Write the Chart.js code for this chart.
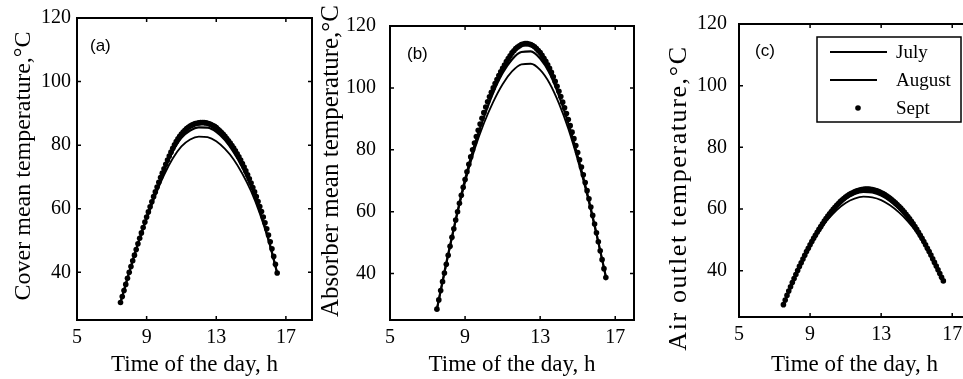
<!DOCTYPE html>
<html>
<head>
<meta charset="utf-8">
<script src="https://cdn.jsdelivr.net/npm/chart.js@4.4.1/dist/chart.umd.min.js"></script>
<style>
  html, body { margin: 0; padding: 0; background: #fff; overflow: hidden; width: 963px; height: 379px; }
  .panel { position: absolute; top: 0; height: 379px; }
</style>
</head>
<body>
<div class="panel" style="left:0;width:320px"><canvas id="chart-a"></canvas></div>
<div class="panel" style="left:312px;width:330px"><canvas id="chart-b"></canvas></div>
<div class="panel" style="left:650px;width:340px"><canvas id="chart-c"></canvas></div>
<script>
// hours of the day for the two line series (July, August)
const lineHours = [7.5, 8, 8.5, 9, 9.5, 10, 10.5, 11, 11.5, 12, 12.5, 13, 13.5, 14, 14.5, 15, 15.5, 16, 16.5];

// hours of the day for the dotted series (Sept)
const septHours = [
  7.5, 7.6, 7.7, 7.8, 7.9,
  8.0, 8.1, 8.2, 8.3, 8.4, 8.5, 8.6, 8.7, 8.8, 8.9,
  9.0, 9.1, 9.2, 9.3, 9.4, 9.5, 9.6, 9.7, 9.8, 9.9,
  10.0, 10.1, 10.2, 10.3, 10.4, 10.5, 10.6, 10.7, 10.8, 10.9,
  11.0, 11.1, 11.2, 11.3, 11.4, 11.5, 11.6, 11.7, 11.8, 11.9,
  12.0, 12.1, 12.2, 12.3, 12.4, 12.5, 12.6, 12.7, 12.8, 12.9,
  13.0, 13.1, 13.2, 13.3, 13.4, 13.5, 13.6, 13.7, 13.8, 13.9,
  14.0, 14.1, 14.2, 14.3, 14.4, 14.5, 14.6, 14.7, 14.8, 14.9,
  15.0, 15.1, 15.2, 15.3, 15.4, 15.5, 15.6, 15.7, 15.8, 15.9,
  16.0, 16.1, 16.2, 16.3, 16.4, 16.5
];

const seriesNames = ['July', 'August', 'Sept'];
const xTicks = [5, 9, 13, 17];
const yTicks = [40, 60, 80, 100, 120];

// (a) cover mean temperature
const coverJuly = [30.5, 40, 49, 57.3, 65, 72, 78, 82.3, 84.6, 85.6, 85.5, 84.2, 81.6, 77.8, 73, 67, 59.5, 50.5, 39.8];
const coverAugust = [30.5, 40, 48.8, 56.8, 64.2, 70.6, 75.8, 79.6, 81.8, 82.7, 82.5, 81.2, 78.8, 75.5, 71, 65.5, 58.5, 50, 39.8];
const coverSept = [
  30.5, 32.4, 34.3, 36.2, 38.1,
  40.0, 41.8, 43.6, 45.4, 47.2, 49.0, 50.7, 52.4, 54.1, 55.8,
  57.4, 59.0, 60.6, 62.2, 63.8, 65.3, 66.8, 68.3, 69.8, 71.2,
  72.6, 74.0, 75.3, 76.6, 77.8, 79.0, 80.1, 81.1, 82.0, 82.8,
  83.5, 84.1, 84.7, 85.2, 85.6, 86.0, 86.3, 86.6, 86.8, 86.9,
  87.0, 87.1, 87.1, 87.1, 87.0, 86.9, 86.7, 86.5, 86.2, 85.9,
  85.5, 85.0, 84.5, 84.0, 83.4, 82.8, 82.1, 81.4, 80.7, 79.9,
  79.1, 78.2, 77.3, 76.3, 75.3, 74.2, 73.1, 71.9, 70.7, 69.4,
  68.1, 66.7, 65.3, 63.8, 62.3, 60.7, 59.1, 57.4, 55.6, 53.7,
  51.7, 49.6, 47.4, 45.0, 42.5, 39.8
];

// (b) absorber mean temperature
const absorberJuly = [28.5, 43.5, 57.5, 70.5, 81.5, 90.5, 98.5, 104.8, 109.2, 111.6, 111.8, 109.5, 104.8, 97.5, 88.5, 78, 66.2, 53, 39];
const absorberAugust = [28.5, 43, 57, 69.5, 80, 88.5, 95.5, 101.2, 105.3, 107.6, 107.8, 105.8, 101.5, 95, 86.8, 76.8, 65.5, 52.6, 39];
const absorberSept = [
  28.5, 31.5, 34.5, 37.4, 40.2,
  43.0, 45.9, 48.8, 51.7, 54.5, 57.3, 60.0, 62.7, 65.3, 67.9,
  70.4, 72.9, 75.3, 77.7, 80.0, 82.2, 84.3, 86.3, 88.3, 90.2,
  92.0, 93.8, 95.5, 97.1, 98.6, 100.0, 101.4, 102.7, 104.0, 105.2,
  106.3, 107.4, 108.5, 109.5, 110.4, 111.3, 112.0, 112.7, 113.2, 113.6,
  114.0, 114.2, 114.3, 114.3, 114.2, 114.0, 113.7, 113.3, 112.7, 112.1,
  111.4, 110.5, 109.6, 108.6, 107.5, 106.3, 105.0, 103.6, 102.1, 100.5,
  98.9, 97.2, 95.4, 93.6, 91.7, 89.8, 87.8, 85.7, 83.6, 81.4,
  79.1, 76.8, 74.4, 71.9, 69.4, 66.8, 64.2, 61.5, 58.8, 56.0,
  53.2, 50.3, 47.4, 44.5, 41.6, 38.7
];

// (c) air outlet temperature
const airJuly = [29, 36, 42.5, 48.2, 53.2, 57.4, 60.8, 63.3, 64.9, 65.6, 65.4, 64.4, 62.6, 60.1, 57, 53, 48.3, 42.9, 36.8];
const airAugust = [29, 36, 42.3, 47.9, 52.7, 56.6, 59.7, 62, 63.4, 64.0, 63.8, 62.9, 61.2, 58.9, 56, 52.4, 47.9, 42.7, 36.8];
const airSept = [
  29.0, 30.5, 32.0, 33.4, 34.8,
  36.2, 37.5, 38.8, 40.1, 41.4, 42.6, 43.8, 45.0, 46.2, 47.3,
  48.4, 49.5, 50.5, 51.5, 52.5, 53.4, 54.3, 55.2, 56.1, 56.9,
  57.7, 58.5, 59.2, 59.9, 60.6, 61.2, 61.8, 62.4, 62.9, 63.4,
  63.9, 64.3, 64.7, 65.0, 65.3, 65.6, 65.8, 66.0, 66.2, 66.3,
  66.4, 66.5, 66.5, 66.5, 66.4, 66.3, 66.2, 66.0, 65.8, 65.6,
  65.3, 65.0, 64.7, 64.3, 63.9, 63.5, 63.0, 62.5, 62.0, 61.5,
  60.9, 60.3, 59.7, 59.0, 58.3, 57.6, 56.8, 56.0, 55.2, 54.3,
  53.4, 52.5, 51.5, 50.5, 49.5, 48.4, 47.3, 46.2, 45.1, 43.9,
  42.7, 41.5, 40.3, 39.1, 37.9, 36.7
];

const serif = '"Liberation Serif", "Times New Roman", serif';
const sans = '"Liberation Sans", Arial, sans-serif';

function toPoints(xs, ys) {
  return xs.map((x, i) => ({ x: x, y: ys[i] }));
}

// box, inward ticks, panel letter, rotated y title and (optional) legend
const framePlugin = {
  id: 'frame',
  afterDraw(chart, args, opts) {
    const ctx = chart.ctx;
    const a = chart.chartArea;
    const xs = chart.scales.x, ys = chart.scales.y;
    ctx.save();
    ctx.strokeStyle = '#000';
    ctx.lineWidth = 2;
    ctx.strokeRect(a.left, a.top, a.right - a.left, a.bottom - a.top);
    ctx.beginPath();
    xs.ticks.forEach(t => {
      const p = xs.getPixelForValue(t.value);
      ctx.moveTo(p, a.bottom); ctx.lineTo(p, a.bottom - 4);
      ctx.moveTo(p, a.top); ctx.lineTo(p, a.top + 4);
    });
    ys.ticks.forEach(t => {
      const p = ys.getPixelForValue(t.value);
      ctx.moveTo(a.left, p); ctx.lineTo(a.left + 4, p);
      ctx.moveTo(a.right, p); ctx.lineTo(a.right - 4, p);
    });
    ctx.lineWidth = 1.5;
    ctx.stroke();

    ctx.fillStyle = '#000';
    ctx.font = '17px ' + sans;
    ctx.textAlign = 'left';
    ctx.textBaseline = 'alphabetic';
    ctx.fillText(opts.letter, a.left + opts.letterDx, a.top + opts.letterDy);

    ctx.save();
    ctx.translate(opts.titleX, opts.titleY);
    ctx.rotate(-Math.PI / 2);
    ctx.font = opts.titleSize + 'px ' + serif;
    ctx.letterSpacing = (opts.titleSpacing || 0) + 'px';
    ctx.textAlign = 'center';
    ctx.textBaseline = 'middle';
    ctx.fillText(opts.title, 0, 0);
    ctx.restore();

    if (opts.legend) {
      const bx = a.left + 78, by = a.top + 13;
      ctx.fillStyle = '#fff';
      ctx.fillRect(bx, by, 144, 85);
      ctx.lineWidth = 1.5;
      ctx.strokeRect(bx, by, 144, 85);
      ctx.lineWidth = 2;
      ctx.beginPath();
      ctx.moveTo(bx + 13, by + 15); ctx.lineTo(bx + 70, by + 15);
      ctx.moveTo(bx + 13, by + 43); ctx.lineTo(bx + 60, by + 43);
      ctx.stroke();
      ctx.fillStyle = '#000';
      ctx.beginPath();
      ctx.arc(bx + 41, by + 71, 2.8, 0, Math.PI * 2);
      ctx.fill();
      ctx.font = '19px ' + serif;
      ctx.fillText(seriesNames[0], bx + 79, by + 21);
      ctx.fillText(seriesNames[1], bx + 79, by + 49);
      ctx.fillText(seriesNames[2], bx + 79, by + 77);
    }
    ctx.restore();
  }
};

function makePanel(id, cfg) {
  return new Chart(document.getElementById(id), {
    type: 'scatter',
    data: {
      datasets: [
        { label: seriesNames[0], data: toPoints(lineHours, cfg.july), showLine: true,
          borderColor: '#000', borderWidth: 2.2, pointRadius: 0, cubicInterpolationMode: 'monotone' },
        { label: seriesNames[1], data: toPoints(lineHours, cfg.august), showLine: true,
          borderColor: '#000', borderWidth: 1.8, pointRadius: 0, cubicInterpolationMode: 'monotone' },
        { label: seriesNames[2], data: toPoints(septHours, cfg.sept), showLine: false,
          pointRadius: 2.8, pointBackgroundColor: '#000', pointBorderWidth: 0, borderColor: '#000' }
      ]
    },
    options: {
      responsive: true,
      maintainAspectRatio: false,
      animation: false,
      layout: { padding: cfg.padding },
      plugins: {
        legend: { display: false },
        tooltip: { enabled: false },
        frame: cfg.frame
      },
      scales: {
        x: {
          type: 'linear', min: 5, max: cfg.xMax,
          grid: { display: false, drawTicks: false },
          border: { display: false },
          afterBuildTicks: s => { s.ticks = xTicks.map(v => ({ value: v })); },
          afterFit: s => { s.height = cfg.xHeight; },
          ticks: { color: '#000', font: { family: serif, size: 20 }, padding: 6, maxRotation: 0, autoSkip: false },
          title: { display: true, text: 'Time of the day, h', color: '#000', font: { family: serif, size: 23 }, padding: 0 }
        },
        y: {
          type: 'linear', min: 25, max: 120,
          grid: { display: false, drawTicks: false },
          border: { display: false },
          afterBuildTicks: s => { s.ticks = yTicks.map(v => ({ value: v })); },
          afterFit: s => { s.width = cfg.yWidth; },
          ticks: { color: '#000', font: { family: serif, size: 20 }, padding: cfg.yPad, autoSkip: false }
        }
      }
    },
    plugins: [framePlugin]
  });
}

makePanel('chart-a', {
  july: coverJuly, august: coverAugust, sept: coverSept,
  xMax: 18.5, xHeight: 59, yWidth: 77, yPad: 6,
  padding: { top: 17, right: 8, left: 0, bottom: 0 },
  frame: { letter: '(a)', letterDx: 13, letterDy: 33, title: 'Cover mean temperature,°C', titleX: 24, titleY: 166, titleSize: 24 }
});

makePanel('chart-b', {
  july: absorberJuly, august: absorberAugust, sept: absorberSept,
  xMax: 18, xHeight: 59, yWidth: 78, yPad: 14,
  padding: { top: 17, right: 8, left: 0, bottom: 0 },
  frame: { letter: '(b)', letterDx: 17, letterDy: 33, title: 'Absorber mean temperature,°C', titleX: 19, titleY: 161, titleSize: 25 }
});

makePanel('chart-c', {
  july: airJuly, august: airAugust, sept: airSept,
  xMax: 18, xHeight: 62, yWidth: 89, yPad: 12,
  padding: { top: 15, right: 20, left: 0, bottom: 0 },
  frame: { letter: '(c)', letterDx: 16, letterDy: 32, title: 'Air outlet temperature,°C', titleX: 29, titleY: 198, titleSize: 26, titleSpacing: 1.6, legend: true }
});
</script>
</body>
</html>
